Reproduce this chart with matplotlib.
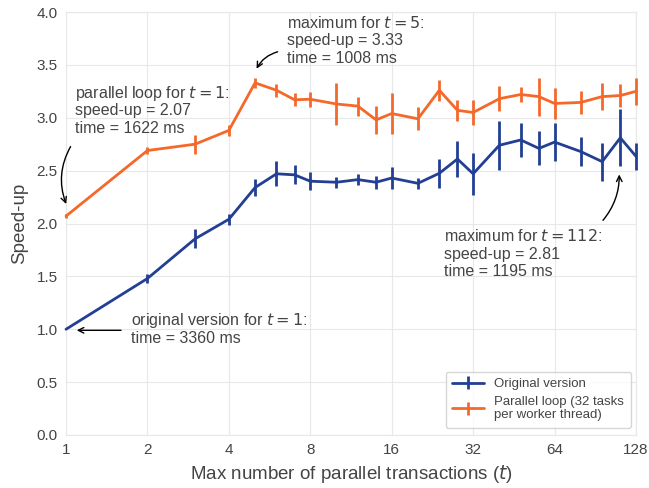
import numpy as np
import matplotlib
matplotlib.use('Agg')
import matplotlib.pyplot as plt
import seaborn as sns

# max number of parallel transactions
threads = [1, 2, 3, 4, 5, 6, 7, 8, 10, 12, 14, 16, 20, 24, 28, 32,
           40, 48, 56, 64, 80, 96, 112, 128]

# original version: speed-up and error
orig_speedup = [1.00, 1.48, 1.855, 2.04, 2.34, 2.47, 2.46, 2.40, 2.39, 2.415, 2.39, 2.43,
                2.38, 2.475, 2.61, 2.47, 2.74, 2.79, 2.71, 2.77, 2.68, 2.585, 2.81, 2.635]
orig_err = [0.0, 0.04, 0.09, 0.05, 0.08, 0.12, 0.09, 0.085, 0.05, 0.05, 0.06, 0.10,
            0.05, 0.135, 0.17, 0.20, 0.23, 0.16, 0.16, 0.18, 0.14, 0.18, 0.27, 0.13]

# parallel loop (32 tasks per worker thread)
par_speedup = [2.07, 2.69, 2.75, 2.88, 3.33, 3.26, 3.17, 3.175, 3.13, 3.11, 2.98, 3.04,
               2.99, 3.26, 3.07, 3.05, 3.18, 3.22, 3.20, 3.135, 3.145, 3.20, 3.21, 3.25]
par_err = [0.02, 0.03, 0.09, 0.055, 0.05, 0.06, 0.06, 0.07, 0.20, 0.09, 0.13, 0.19,
           0.11, 0.10, 0.10, 0.12, 0.12, 0.075, 0.18, 0.145, 0.11, 0.125, 0.105, 0.13]

xticks = [1, 2, 4, 8, 16, 32, 64, 128]

BLUE = '#233f94'
ORANGE = '#f4692a'
TXT = '#444444'

sns.set_style('whitegrid')
plt.rcParams['font.family'] = ['Liberation Sans', 'DejaVu Sans']
plt.rcParams['mathtext.fontset'] = 'dejavusans'
plt.rcParams['axes.edgecolor'] = '#e8e8e8'
plt.rcParams['grid.color'] = '#e8e8e8'

fig = plt.figure(figsize=(6.49, 4.88), dpi=100)
ax = fig.add_axes([66/649, 1 - 435/488, (636-66)/649, (435-12)/488])

for ys, es, c, lab in [(orig_speedup, orig_err, BLUE, 'Original version'),
                       (par_speedup, par_err, ORANGE, 'Parallel loop (32 tasks\nper worker thread)')]:
    cont = ax.errorbar(threads, ys, yerr=es, color=c, lw=2, elinewidth=2,
                       capsize=0, label=lab, zorder=3)
    for art in cont.get_children():
        art.set_clip_on(False)

ax.set_xscale('log', base=2)
ax.set_xticks(xticks)
ax.set_xticklabels([str(x) for x in xticks])
ax.minorticks_off()
ax.set_xlim(1, 128)
ax.set_ylim(0, 4)
ax.set_yticks(np.arange(0, 4.01, 0.5))
ax.tick_params(labelsize=11, colors=TXT, length=0, pad=6)
ax.set_xlabel('Max number of parallel transactions ($t$)', fontsize=13.5, color=TXT)
ax.set_ylabel('Speed-up', fontsize=13.5, color=TXT, labelpad=6)


def multiline(x, y, lines):
    # one text per line so the mathtext line keeps the same spacing
    for i, line in enumerate(lines):
        ax.annotate(line, (x, y), xytext=(0, -i * 12.6), textcoords='offset points',
                    va='baseline', ha='left', fontsize=11.5, color=TXT)


multiline(1.08, 3.189, ['parallel loop for $t=1$:', 'speed-up = 2.07', 'time = 1622 ms'])
multiline(6.58, 3.849, ['maximum for $t=5$:', 'speed-up = 3.33', 'time = 1008 ms'])
multiline(24.9, 1.83, ['maximum for $t=112$:', 'speed-up = 2.81', 'time = 1195 ms'])
multiline(1.735, 1.038, ['original version for $t=1$:', 'time = 3360 ms'])

arrow = dict(arrowstyle='->', color='black', lw=1)
ax.annotate('', xy=(1.01, 2.16), xytext=(1.052, 2.75),
            arrowprops=dict(arrow, connectionstyle='arc3,rad=0.25'))
ax.annotate('', xy=(5.01, 3.44), xytext=(6.2, 3.63),
            arrowprops=dict(arrow, connectionstyle='arc3,rad=0.25'))
ax.annotate('', xy=(110.9, 2.49), xytext=(95.2, 2.01),
            arrowprops=dict(arrow, connectionstyle='arc3,rad=0.2'))
ax.annotate('', xy=(1.07, 0.99), xytext=(1.636, 0.99), arrowprops=arrow)

leg = ax.legend(loc='lower right', fontsize=9.5, frameon=True, borderpad=0.5,
                bbox_to_anchor=(0.991, 0.0165), borderaxespad=0,
                handlelength=2.4, labelspacing=0.4)
leg.get_frame().set_edgecolor('#cccccc')
for t in leg.get_texts():
    t.set_color(TXT)

fig.savefig('out.png', dpi=100)
